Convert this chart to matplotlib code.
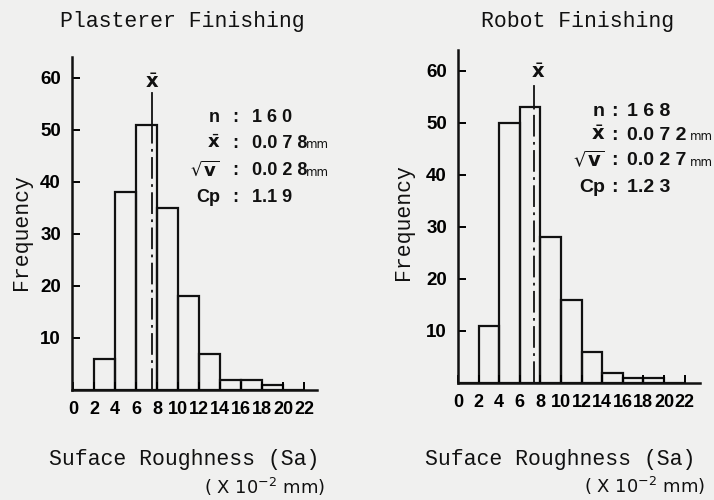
import numpy as np
import matplotlib.pyplot as plt

# histogram data
bin_left = [0, 2, 4, 6, 8, 10, 12, 14, 16, 18, 20]
plasterer_counts = [0, 6, 38, 51, 35, 18, 7, 2, 2, 1, 0]
robot_counts = [0, 11, 50, 53, 28, 16, 6, 2, 1, 1, 0]
mean_pos = [7.5, 7.4]          # where the x-bar line is drawn
x_ticks = [0, 2, 4, 6, 8, 10, 12, 14, 16, 18, 20, 22]
y_ticks = [10, 20, 30, 40, 50, 60]

titles = ['Plasterer Finishing', 'Robot Finishing']
stats = [
    ['1 6 0', '0.0 7 8', '0.0 2 8', '1.1 9'],
    ['1 6 8', '0.0 7 2', '0.0 2 7', '1.2 3'],
]
stat_names = ['n', r'$\bar{\mathbf{x}}$', r'$\sqrt{\mathbf{v}}$', 'Cp']

W, H = 714, 500
BG = '#f0f0ef'
MONO = 'Liberation Mono'
SANS = 'Liberation Sans'

fig = plt.figure(figsize=(W / 100, H / 100), dpi=100, facecolor=BG)


def px(x, y):
    return x / W, 1 - y / H


# axes boxes in pixels: left spine x, baseline y, right end x, top y
boxes = [(72, 390, 317, 57), (458, 383, 700, 50)]
xlims = [(-0.1, 23.2), (0, 23.5)]

# text layout per panel (pixels)
layout = [
    dict(title=(182, 22), ylab=(22, 232), xlab=(184, 459), unit=(325, 487),
         lab_r=220, colon=235, val=252, mm=306, rows=[118, 143, 170, 197], fs=13,
         xbar=(152, 83)),
    dict(title=(578, 21), ylab=(403, 222), xlab=(560, 459), unit=(705, 486),
         lab_r=605, colon=614, val=627, mm=690, rows=[112, 135, 160, 187], fs=14,
         xbar=(538, 73)),
]

for i, counts in enumerate([plasterer_counts, robot_counts]):
    x0, y0, x1, y1 = boxes[i]
    ax = fig.add_axes([x0 / W, 1 - y0 / H, (x1 - x0) / W, (y0 - y1) / H])
    ax.set_facecolor('none')
    ax.bar(bin_left, counts, width=2, align='edge', facecolor='none',
           edgecolor='#111111', linewidth=1.6)

    # mean line: solid above the bar, dash-dot inside
    ib = int(mean_pos[i] // 2)
    top = counts[ib]
    ax.plot([mean_pos[i], mean_pos[i]], [top, 57], color='#111111', lw=1.3)
    ax.plot([mean_pos[i], mean_pos[i]], [0, top], color='#111111', lw=1.3,
            linestyle=(0, (12, 3, 1.5, 3)))

    ax.set_xlim(*xlims[i])
    ax.set_ylim(0, 64)
    for s in ['top', 'right']:
        ax.spines[s].set_visible(False)
    for s in ['left', 'bottom']:
        ax.spines[s].set_linewidth(1.8)
        ax.spines[s].set_color('#111111')
    ax.set_xticks(x_ticks)
    ax.set_xticklabels([str(t) for t in x_ticks], fontfamily=SANS,
                       fontweight='bold', fontsize=13)
    ax.set_yticks(y_ticks)
    ax.set_yticklabels([str(t) for t in y_ticks], fontfamily=SANS,
                       fontweight='bold', fontsize=13.5)
    ax.tick_params(axis='x', direction='in', length=6, width=1.4, pad=8)
    ax.tick_params(axis='y', direction='in', length=6, width=1.4, pad=8)

    L = layout[i]
    fig.text(*px(*L['title']), titles[i], family=MONO, fontsize=15.5,
             ha='center', va='center', color='#111111')
    fig.text(*px(*L['ylab']), 'Frequency', family=MONO, fontsize=15.5,
             rotation=90, ha='center', va='center', color='#111111')
    fig.text(*px(*L['xlab']), 'Suface Roughness (Sa)', family=MONO,
             fontsize=15.5, ha='center', va='center', color='#111111')
    fig.text(*px(*L['unit']), r'( X 10$^{-2}$ mm)', family='DejaVu Sans',
             fontsize=13, ha='right', va='center', color='#111111')
    fig.text(*px(*L['xbar']), r'$\bar{\mathbf{x}}$', fontsize=14,
             ha='center', va='center', color='#111111')

    for j, name in enumerate(stat_names):
        y = L['rows'][j]
        fig.text(*px(L['lab_r'], y), name, family=SANS, fontweight='bold',
                 fontsize=L['fs'], ha='right', va='center', color='#111111')
        fig.text(*px(L['colon'], y), ':', family=SANS, fontweight='bold',
                 fontsize=L['fs'], ha='center', va='center', color='#111111')
        fig.text(*px(L['val'], y), stats[i][j], family=SANS, fontweight='bold',
                 fontsize=L['fs'], ha='left', va='center', color='#111111')
        if j in (1, 2):
            fig.text(*px(L['mm'], y + 2), 'mm', family='DejaVu Sans',
                     fontsize=8.5, ha='left', va='center', color='#111111')

fig.savefig('out.png', dpi=100, facecolor=BG)
